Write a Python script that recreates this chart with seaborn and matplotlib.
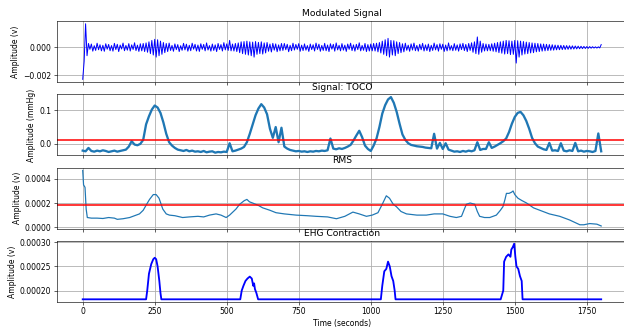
import numpy as np
import matplotlib
matplotlib.use("Agg")
import matplotlib.pyplot as plt
import seaborn as sns

# modulated EHG signal, one sample every 5 s, units of 1e-5 V
mod_time = np.arange(0, 1805, 5)
mod_signal = [
    -230, -100, 170, -60, 28, -14, 24, -27, 12, -22, 30, -17, 19, -25, 15, -28, 26, -13, 21, -24,
    13, -27, 29, -16, 22, -30, 17, -12, 31, -24, 14, -20, 27, -26, 18, -15, 33, -23, 16, -29,
    26, -25, 28, -30, 32, -35, 40, -45, 50, -55, 58, -70, 55, -60, 45, -50, 35, -38, 28, -30,
    31, -22, 14, -28, 25, -16, 20, -30, 12, -21, 29, -18, 23, -27, 15, -24, 30, -13, 22, -26,
    17, -29, 26, -14, 21, -25, 32, -19, 13, -27, 24, -22, 18, -30, 28, -15, 20, -26, 34, -18,
    25, -22, 50, -25, 24, -26, 28, -30, 32, -38, 40, -45, 42, -50, 45, -55, 40, -60, 38, -70,
    42, -50, 36, -45, 40, -48, 32, -40, 35, -28, 24, -33, 29, -20, 25, -31, 18, -25, 28, -22,
    28, -17, 22, -31, 15, -24, 30, -19, 21, -14, 27, -28, 16, -23, 25, -20, 13, -29, 24, -16,
    19, -26, 31, -15, 23, -28, 14, -22, 29, -24, 17, -30, 26, -13, 22, -27, 32, -18, 15, -25,
    27, -20, 16, -29, 24, -14, 30, -23, 18, -27, 22, -16, 33, -25, 14, -21, 28, -30, 20, -26,
    24, -25, 28, -26, 30, -32, 35, -40, 45, -50, 55, -60, 65, -70, 50, -55, 48, -60, 40, -45,
    35, -38, 26, -32, 30, -21, 16, -28, 25, -19, 31, -24, 14, -27, 22, -17, 29, -26, 18, -23,
    24, -30, 15, -22, 31, -18, 20, -27, 26, -14, 23, -29, 17, -25, 32, -20, 13, -24, 27, -21,
    18, -27, 25, -16, 29, -23, 21, -30, 28, -22, 33, -35, 40, -45, 75, -50, 45, -35, 28, -26,
    24, -25, 22, -24, 26, -28, 30, -32, 35, -38, 40, -42, 45, -48, 50, -45, 48, -52, 45, -50,
    50, -113, 48, -70, 45, -55, 42, -48, 38, -45, 35, -40, 32, -38, 30, -32, 28, -30, 25, -27,
    24, -25, 22, -23, 20, -21, 19, -20, 17, -18, 16, -17, 15, -16, 14, -15, 13, -14, 12, -13,
    11, -12, 10, -11, 9, -10, 8, -9, 7, -8, 6, -7, 6, -6, 5, -5, 4, -5, 4, -4,
    20,
]

# TOCO signal, one sample every 10 s, units of 1e-3 mmHg
toco_time = np.arange(0, 1810, 10)
toco = [
    -20, -22, -12, -21, -23, -20, -22, -19, -21, -24,
    -22, -20, -23, -21, -19, -17, -8, 8, -2, -4,
    0, 12, 58, 82, 102, 114, 108, 92, 64, 30,
    5, -5, -12, -17, -19, -21, -18, -22, -20, -23,
    -22, -24, -21, -25, -23, -22, -26, -24, -25, -23,
    -24, 2, -22, -20, -17, -14, -9, 5, 30, 58,
    85, 105, 118, 108, 88, 45, 18, 50, 5, 48,
    -8, -14, -18, -20, -22, -21, -23, -22, -24, -22,
    -23, -21, -22, -20, -21, -19, 16, -14, -16, -13,
    -15, -12, -8, -3, 10, 25, 39, 20, -5, -15,
    -21, -5, 16, 50, 90, 115, 132, 139, 122, 95,
    60, 28, 12, 2, -3, -5, -7, -8, -9, -11,
    -12, -13, 30, -14, 3, -15, 2, -17, -20, -23,
    -22, -24, -21, -23, -20, -22, -19, 5, -18, -15,
    -15, 5, -12, -8, -3, 2, 8, 16, 35, 60,
    80, 92, 95, 85, 68, 45, 18, 2, -8, -12,
    -16, -18, 3, -20, -19, -21, 2, -20, -22, -19,
    -21, 3, -22, -20, -23, -21, -22, -24, -21, 31,
    -22,
]
toco_threshold = 0.011

# RMS of the EHG signal, units of 1e-5 V
rms_time = [0, 3, 8, 12, 16, 30, 50, 70, 90, 110, 120, 140, 163, 180, 197, 210, 222, 232,
            245, 255, 265, 278, 290, 301, 320, 347, 370, 400, 420, 440, 463, 480, 498, 510,
            532, 545, 561, 570, 579, 590, 610, 625, 650, 671, 700, 741, 780, 810, 850, 881,
            910, 938, 960, 985, 1005, 1025, 1040, 1054, 1065, 1078, 1089, 1105, 1124, 1160,
            1193, 1220, 1250, 1275, 1297, 1315, 1325, 1332, 1345, 1361, 1370, 1378, 1395,
            1413, 1436, 1450, 1459, 1466, 1471, 1480, 1489, 1494, 1500, 1511, 1525, 1541,
            1565, 1587, 1620, 1656, 1690, 1726, 1740, 1760, 1785, 1800]
rms_vals = [47, 35, 33, 15, 8, 7.5, 7.5, 7.2, 8, 7.5, 6.5, 7, 8, 9.5, 11, 14, 19, 23,
            27, 27, 24, 15, 11, 10, 9.5, 8, 8.5, 9, 8.5, 10, 11, 10, 8, 10,
            15, 19, 22, 23, 21, 20, 18, 16, 14, 12, 11, 10, 9.5, 9, 8.5, 7,
            9, 12.5, 11, 9, 10, 12, 19, 26, 24, 19, 17, 13, 11, 10,
            10, 11, 11, 9, 8, 9, 15, 19, 20, 19, 13, 9, 8,
            8, 10, 14, 17, 23, 28, 28, 29, 30, 27, 24, 22, 20,
            16, 14, 11, 9, 6, 2, 2, 3, 2.5, 1]
rms_threshold = 0.000185

# detected EHG contractions, units of 1e-5 V
ehg_time = [0, 220, 224, 230, 238, 245, 250, 255, 260, 266, 270, 273,
            547, 552, 558, 565, 572, 580, 587, 592, 595, 598, 603, 609,
            1035, 1040, 1047, 1054, 1060, 1066, 1072, 1078, 1083, 1086,
            1451, 1455, 1460, 1463, 1470, 1478, 1485, 1488, 1493, 1498, 1502, 1506,
            1512, 1518, 1524, 1527, 1800]
ehg_vals = [18.2, 18.2, 20, 23.5, 25.5, 26.5, 26.8, 26.5, 25, 22, 19.5, 18.2,
            18.2, 20, 21, 22, 22.5, 22.9, 22.5, 21, 21.5, 20.3, 19.5, 18.2,
            18.2, 21, 24, 24.5, 26, 25, 23, 22, 20, 18.2,
            18.2, 19, 20, 26, 27, 27.5, 27, 28.5, 29, 29.7, 27, 25,
            24.5, 23, 22, 18.2, 18.2]

dpi = 55
fig, axes = plt.subplots(4, 1, sharex=True, figsize=(624 / dpi, 328 / dpi), dpi=dpi)
fig.subplots_adjust(left=0.091, right=1.005, bottom=0.079, top=0.936, hspace=0.2)

ax = axes[0]
sns.lineplot(x=mod_time, y=np.array(mod_signal) * 1e-5, ax=ax, color="blue", linewidth=1.3)
ax.set_title("Modulated Signal")
ax.set_ylabel("Amplitude (v)")

ax = axes[1]
sns.lineplot(x=toco_time, y=np.array(toco) * 1e-3, ax=ax, color="#1f77b4", linewidth=3)
ax.axhline(toco_threshold, color="red", linewidth=2)
ax.set_title("Signal: TOCO")
ax.set_ylabel("Amplitude (mmHg)")

ax = axes[2]
sns.lineplot(x=rms_time, y=np.array(rms_vals) * 1e-5, ax=ax, color="#1f77b4", linewidth=1.6)
ax.axhline(rms_threshold, color="red", linewidth=2)
ax.set_title("RMS")
ax.set_ylabel("Amplitude (v)")

ax = axes[3]
sns.lineplot(x=ehg_time, y=np.array(ehg_vals) * 1e-5, ax=ax, color="blue", linewidth=2.4)
ax.set_title("EHG Contraction")
ax.set_ylabel("Amplitude (v)")
ax.set_xlabel("Time (seconds)")

for ax in axes:
    ax.grid(True, linewidth=1.1)

fig.savefig("out.png", dpi=dpi)
